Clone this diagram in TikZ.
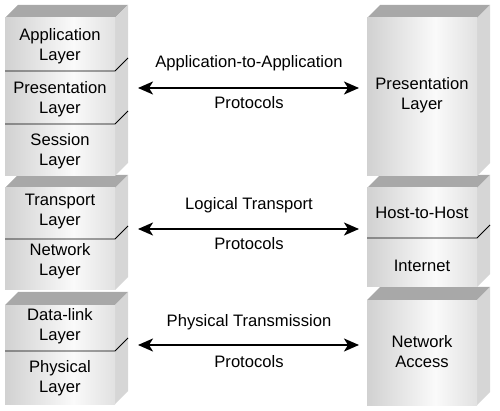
\documentclass[tikz,border=0pt]{standalone}
\usepackage{fontspec}
\setmainfont{Liberation Sans}
\usetikzlibrary{arrows.meta}
\definecolor{fl}{HTML}{B0B0B0}
\definecolor{fm}{HTML}{FAFAFA}
\definecolor{fr}{HTML}{C0C0C0}
\definecolor{topc}{HTML}{A8A8A8}
\definecolor{sidec}{HTML}{D6D6D6}
\pgfdeclarehorizontalshading{frontshade}{100bp}{color(0bp)=(fl); color(56bp)=(fm); color(100bp)=(fr)}
\tikzset{
  lbl/.style={font=\fontsize{16.6}{20}\selectfont, align=center, inner sep=0pt},
  proto/.style={{Stealth[length=15pt,width=13pt,inset=4pt]}-{Stealth[length=15pt,width=13pt,inset=4pt]}, line width=1.8pt},
  divline/.style={line width=0.8pt, black}
}
% #1 left x, #2 right x, #3 front top y, #4 front bottom y
\newcommand\drawblk[4]{%
  \fill[topc] (#1,#3) -- ++(13,-13) -- (#2+13,#3-13) -- (#2,#3) -- cycle;
  \fill[sidec] (#2,#3) -- (#2+13,#3-13) -- (#2+13,#4-13) -- (#2,#4) -- cycle;
  \shade[shading=frontshade] (#1,#3) rectangle (#2,#4);
}
\newcommand\drawdiv[3]{%
  \draw[divline] (#1,#3) -- (#2,#3) -- (#2+13,#3-13);
}
\begin{document}
\begin{tikzpicture}[x=1pt,y=-1pt]
\useasboundingbox (0,0) rectangle (500,411);
% left stack (bottom first)
\drawblk{5}{115}{305}{404}
\drawdiv{5}{115}{351}
\drawblk{5}{115}{188}{290}
\drawdiv{5}{115}{239}
\drawblk{5}{115}{18}{176}
\drawdiv{5}{115}{71}
\drawdiv{5}{115}{124}
% right stack
\drawblk{367}{477}{300}{405}
\drawblk{367}{477}{188}{287}
\drawdiv{367}{477}{238}
\drawblk{367}{477}{18}{176}
% left labels
\node[lbl] (app) at (60,46) {Application\\Layer};
\node[lbl] (pres) at (60,99) {Presentation\\Layer};
\node[lbl] (sess) at (60,151) {Session\\Layer};
\node[lbl] (trans) at (60,212) {Transport\\Layer};
\node[lbl] (net) at (60,261) {Network\\Layer};
\node[lbl] (dl) at (60,326) {Data-link\\Layer};
\node[lbl] (phys) at (60,378) {Physical\\Layer};
% right labels
\node[lbl] (rpres) at (422,95) {Presentation\\Layer};
\node[lbl] (host) at (422,213) {Host-to-Host};
\node[lbl] (inet) at (422,266) {Internet};
\node[lbl] (nacc) at (422,352) {Network\\Access};
% arrows
\coordinate (a1l) at (138,88); \coordinate (a1r) at (359,88);
\coordinate (a2l) at (138,229); \coordinate (a2r) at (359,229);
\coordinate (a3l) at (138,345); \coordinate (a3r) at (359,345);
\draw[proto] (a1l) -- (a1r);
\draw[proto] (a2l) -- (a2r);
\draw[proto] (a3l) -- (a3r);
\node[lbl] (t1) at (249,63) {Application-to-Application};
\node[lbl] (b1) at (249,103) {Protocols};
\node[lbl] (t2) at (249,205) {Logical Transport};
\node[lbl] (b2) at (249,244) {Protocols};
\node[lbl] (t3) at (249,322) {Physical Transmission};
\node[lbl] (b3) at (249,362) {Protocols};
\end{tikzpicture}
\end{document}
